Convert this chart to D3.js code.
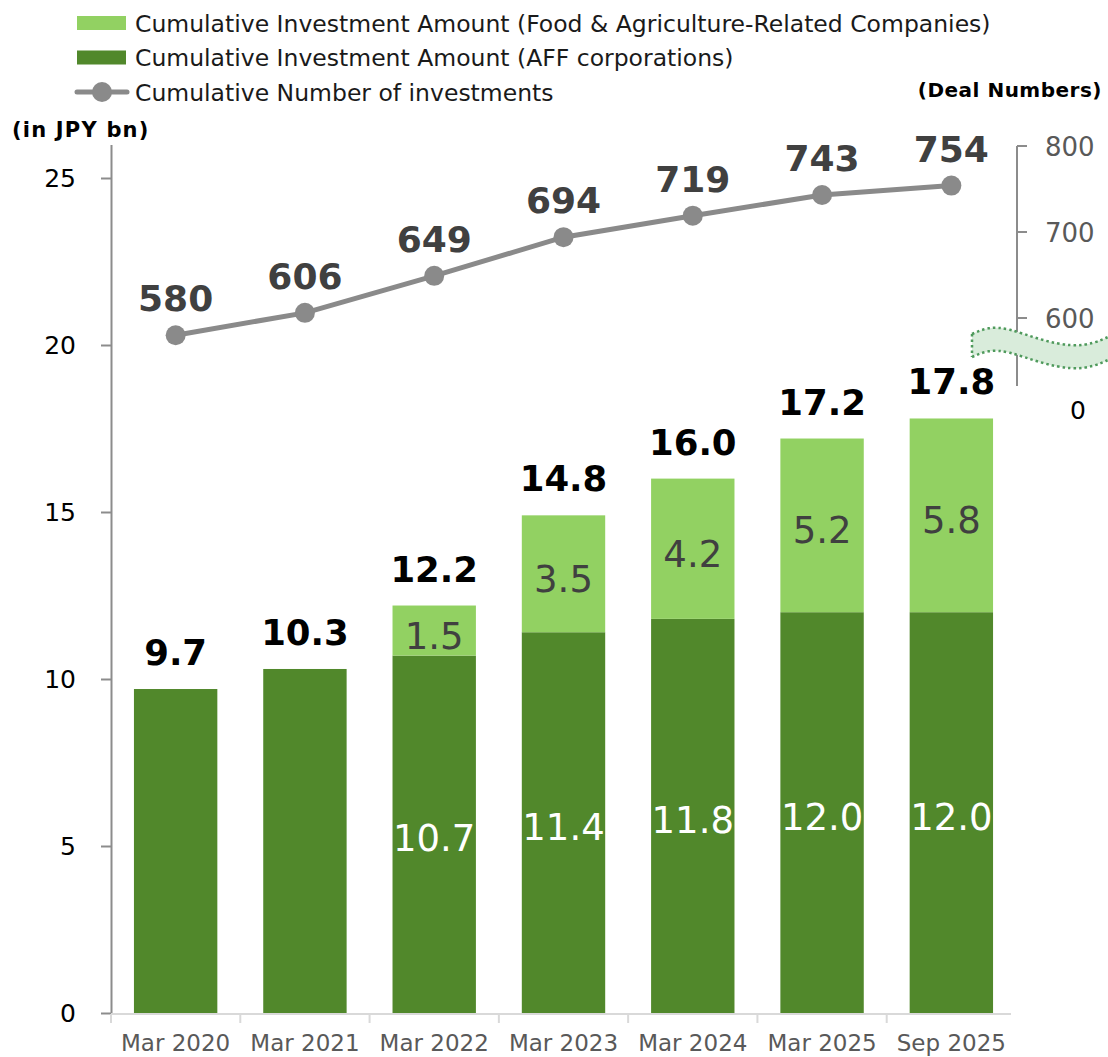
<!DOCTYPE html>
<html>
<head>
<meta charset="utf-8">
<script src="https://cdn.jsdelivr.net/npm/d3@7"></script>
<style>
  html, body { margin: 0; padding: 0; background: #fff; }
  svg { display: block; font-family: "DejaVu Sans", Verdana, sans-serif; }
</style>
</head>
<body>
<svg id="chart" width="1108" height="1057"></svg>
<script>
// Period labels along the bottom axis
const categories = ["Mar 2020", "Mar 2021", "Mar 2022", "Mar 2023", "Mar 2024", "Mar 2025", "Sep 2025"];
// Cumulative investment amount, JPY bn
const affAmount = [9.7, 10.3, 10.7, 11.4, 11.8, 12.0, 12.0];
const foodAgriAmount = [0, 0, 1.5, 3.5, 4.2, 5.2, 5.8];
const totalAmount = [9.7, 10.3, 12.2, 14.8, 16.0, 17.2, 17.8];
// Cumulative number of deals
const dealCount = [580, 606, 649, 694, 719, 743, 754];
// Axis ticks
const leftTicks = [0, 5, 10, 15, 20, 25];
const rightTicks = [600, 700, 800];

const legendItems = [
  { label: "Cumulative Investment Amount (Food & Agriculture-Related Companies)", kind: "rect", color: "#92d162" },
  { label: "Cumulative Investment Amount (AFF corporations)", kind: "rect", color: "#51882b" },
  { label: "Cumulative Number of investments", kind: "line", color: "#8a8a8a" }
];

const DARK = "#51882b", LIGHT = "#92d162", LINE = "#8a8a8a";
const svg = d3.select("#chart");

// Scales
const x = d3.scaleBand().domain(categories).range([111, 1016]).paddingInner(0.355).paddingOuter(0.1775);
const y = d3.scaleLinear().domain([0, 26]).range([1013, 144.6]);
const yR = d3.scaleLinear().domain([600, 800]).range([318, 146]);

// Left axis
const leftAxis = d3.axisLeft(y).tickValues(leftTicks).tickSize(10).tickPadding(25).tickSizeOuter(0);
const gL = svg.append("g").attr("transform", "translate(111,0)").call(leftAxis);
gL.select(".domain").attr("stroke", "#8c8c8c").attr("stroke-width", 2);
gL.selectAll(".tick line").attr("stroke", "#8c8c8c").attr("stroke-width", 2);
gL.selectAll(".tick text").attr("fill", "#000").attr("font-size", 25).attr("font-family", "DejaVu Sans");

// Bottom axis: ticks at band boundaries
const xAxisLine = svg.append("g");
xAxisLine.append("line").attr("x1", 111).attr("x2", 1011).attr("y1", 1014).attr("y2", 1014)
  .attr("stroke", "#d9d9d9").attr("stroke-width", 2);
const step = x.step();
const boundaries = categories.map(c => x(c) - (step - x.bandwidth()) / 2);
xAxisLine.selectAll("line.b").data(boundaries).join("line")
  .attr("class", "b").attr("x1", d => d).attr("x2", d => d).attr("y1", 1014).attr("y2", 1023)
  .attr("stroke", "#d9d9d9").attr("stroke-width", 2);
xAxisLine.selectAll("text").data(categories).join("text")
  .attr("x", d => x(d) + x.bandwidth() / 2).attr("y", 1051)
  .attr("text-anchor", "middle").attr("font-size", 23).attr("fill", "#595959").text(d => d);

// Stacked bars
const rows = categories.map((c, i) => ({ c, aff: affAmount[i], food: foodAgriAmount[i], total: totalAmount[i], deals: dealCount[i] }));
const bars = svg.append("g");
bars.selectAll("rect.aff").data(rows).join("rect").attr("class", "aff")
  .attr("x", d => x(d.c)).attr("width", x.bandwidth())
  .attr("y", d => y(d.aff)).attr("height", d => y(0) - y(d.aff)).attr("fill", DARK);
bars.selectAll("rect.food").data(rows.filter(d => d.food > 0)).join("rect").attr("class", "food")
  .attr("x", d => x(d.c)).attr("width", x.bandwidth())
  .attr("y", d => y(d.aff + d.food)).attr("height", d => y(d.aff) - y(d.aff + d.food)).attr("fill", LIGHT);

// Segment labels
bars.selectAll("text.affv").data(rows.filter(d => d.food > 0)).join("text").attr("class", "affv")
  .attr("x", d => x(d.c) + x.bandwidth() / 2).attr("y", d => y(d.aff / 2) + 17)
  .attr("text-anchor", "middle").attr("font-size", 37).attr("fill", "#fff").text(d => d.aff.toFixed(1));
bars.selectAll("text.foodv").data(rows.filter(d => d.food > 0)).join("text").attr("class", "foodv")
  .attr("x", d => x(d.c) + x.bandwidth() / 2).attr("y", d => y(d.aff + d.food / 2) + 18)
  .attr("text-anchor", "middle").attr("font-size", 37).attr("fill", "#404040").text(d => d.food.toFixed(1));
// Totals above each bar
bars.selectAll("text.tot").data(rows).join("text").attr("class", "tot")
  .attr("x", d => x(d.c) + x.bandwidth() / 2).attr("y", d => y(d.aff + d.food) - 24)
  .attr("text-anchor", "middle").attr("font-size", 35.5).attr("font-weight", "bold").attr("fill", "#000")
  .text(d => d.total.toFixed(1));

// Right axis (broken)
const gR = svg.append("g");
gR.append("line").attr("x1", 1017).attr("x2", 1017).attr("y1", 146).attr("y2", 386)
  .attr("stroke", "#8c8c8c").attr("stroke-width", 2);
gR.selectAll("line.t").data(rightTicks).join("line").attr("class", "t")
  .attr("x1", 1017).attr("x2", 1027).attr("y1", d => yR(d)).attr("y2", d => yR(d))
  .attr("stroke", "#8c8c8c").attr("stroke-width", 2);
gR.selectAll("text").data(rightTicks).join("text")
  .attr("x", 1045).attr("y", d => yR(d) + 9.5).attr("font-size", 26).attr("fill", "#595959").text(d => d);
svg.append("text").attr("x", 1078).attr("y", 419).attr("text-anchor", "middle")
  .attr("font-size", 25).attr("fill", "#000").text("0");

// Axis break marker
const wave = d3.line().curve(d3.curveBasis);
const topEdge = [[972, 334], [988, 327], [1008, 328], [1040, 340], [1073, 347], [1095, 343], [1108, 337]];
const botEdge = topEdge.map(([px, py]) => [px, py + 23]);
const areaGen = d3.area().curve(d3.curveBasis).x(d => d[0]).y0(d => d[1]).y1(d => d[1] + 23);
svg.append("path").attr("d", areaGen(topEdge)).attr("fill", "#d9ecdb").attr("stroke", "none");
[topEdge, botEdge].forEach(edge => {
  svg.append("path").attr("d", wave(edge)).attr("fill", "none").attr("stroke", "#4f9a5c")
    .attr("stroke-width", 2.5).attr("stroke-dasharray", "2.5,3");
});
svg.append("line").attr("x1", 972).attr("x2", 972).attr("y1", 334).attr("y2", 357)
  .attr("stroke", "#4f9a5c").attr("stroke-width", 2.5).attr("stroke-dasharray", "2.5,3");

// Deal count line
const cx = d => x(d.c) + x.bandwidth() / 2;
svg.append("path").datum(rows)
  .attr("d", d3.line().x(cx).y(d => yR(d.deals)))
  .attr("fill", "none").attr("stroke", LINE).attr("stroke-width", 5);
svg.selectAll("circle.pt").data(rows).join("circle").attr("class", "pt")
  .attr("cx", cx).attr("cy", d => yR(d.deals)).attr("r", 10).attr("fill", LINE);
svg.selectAll("text.deal").data(rows).join("text").attr("class", "deal")
  .attr("x", cx).attr("y", d => yR(d.deals) - 24)
  .attr("text-anchor", "middle").attr("font-size", 36).attr("font-weight", "bold").attr("fill", "#404040")
  .text(d => d.deals);

// Axis titles
svg.append("text").attr("x", 12).attr("y", 137).attr("font-size", 21).attr("font-weight", "bold")
  .attr("fill", "#000").attr("letter-spacing", 1.2).text("(in JPY bn)");
svg.append("text").attr("x", 1102).attr("y", 97).attr("text-anchor", "end").attr("font-size", 20)
  .attr("font-weight", "bold").attr("fill", "#000").attr("letter-spacing", 0.5).text("(Deal Numbers)");

// Legend
const lg = svg.append("g");
legendItems.forEach((it, i) => {
  const cy = 23 + i * 34.5;
  if (it.kind === "rect") {
    lg.append("rect").attr("x", 77).attr("y", cy - 7).attr("width", 49).attr("height", 14).attr("fill", it.color);
  } else {
    lg.append("line").attr("x1", 77).attr("x2", 127).attr("y1", cy).attr("y2", cy)
      .attr("stroke", it.color).attr("stroke-width", 5).attr("stroke-linecap", "round");
    lg.append("circle").attr("cx", 102).attr("cy", cy).attr("r", 10).attr("fill", it.color);
  }
  lg.append("text").attr("x", 135).attr("y", cy + 8.5).attr("font-size", 23.5).attr("fill", "#1a1a1a").text(it.label);
});
</script>
</body>
</html>
